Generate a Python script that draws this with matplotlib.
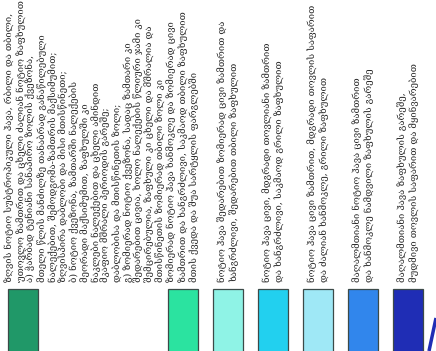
import matplotlib
matplotlib.use("Agg")
import matplotlib.pyplot as plt
from matplotlib.patches import Rectangle

# ---- data -------------------------------------------------------------
entry1_lines = [
    "ზღვის ნოტიო სუბტროპიკული ჰავა, რბილი და თბილი,",
    "უთოვლო ზამთრით და ცხელი ძალიან ნოტიო ზაფხულით",
    "ა) ჭარბად ტენიანი სანაპირო ზოლის ქვეზონა,",
    "მთელი წლის მანძილზე თანაბრად განაწილებული",
    "ნალექებით, შემოდგომა-ზამთრის მაქსიმუმით;",
    "ზღვისპირა დაბლობი და მისი მთისწინეთი;",
    "ბ) ნოტიო ქვეზონა, ზამთარში ნალექების",
    "მეორადი მაქსიმუმით, ზაფხულში კი",
    "ნაკლები ნალექებით და ცხელი ამინდით",
    "მკაფიო მშრალი პერიოდის გარეშე;",
    "დაბლობისა და მთისწინეთის ზოლი;",
    "გ) ზომიერად ნოტიო ქვეზონა, სადაც ზამთარი კი",
    "შედარებით ცივია, ხოლო ნალექების წლიური ჯამი კი",
    "შემცირებულია, ზაფხული კი ცხელი და მშრალია და",
    "მთისწინეთის ზომიერად თბილი ზოლი კი",
]
entry2_lines = [
    "ზომიერად ნოტიო ჰავა ხანმოკლე და ზომიერად ცივი",
    "ზამთრით და ხანგრძლივი, საკმაოდ თბილი ზაფხულით",
    "მთის ქვედა და შუა სარტყლის ფარგლებში",
]
entry3_lines = ["ნოტიო ჰავა შედარებით ზომიერად ცივი ზამთრით და",
                "ხანგრძლივი, შედარებით თბილი ზაფხულით"]
entry4_lines = ["ნოტიო ჰავა ცივი, მდგრადი თოვლიანი ზამთრით",
                "და ხანგრძლივი, საკმაოდ გრილი ზაფხულით"]
entry5_lines = ["ნოტიო ჰავა ცივი ზამთრით, მდგრადი თოვლის საფარით",
                "და ძალიან ხანმოკლე, გრილი ზაფხულით"]
entry6_lines = ["მაღალმთიანი ნოტიო ჰავა ცივი ზამთრით",
                "და ხანმოკლე ნამდვილი ზაფხულის გარეშე"]
entry7_lines = ["მაღალმთიანი ჰავა ზაფხულის გარეშე,",
                "მუდმივი თოვლის საფარით და მყინვარებით"]
entries = [entry1_lines, entry2_lines, entry3_lines, entry4_lines,
           entry5_lines, entry6_lines, entry7_lines]
colors = ["#209868", "#2be3a0", "#8ff3e6", "#22d0ef", "#9fe8f6", "#3186ec", "#1f2db5"]

map_edge_x = [436, 429]
map_edge_y = [318, 351]

# ---- layout -----------------------------------------------------------
W, H = 436, 351
fig = plt.figure(figsize=(W / 100, H / 100), dpi=100)
ax = fig.add_axes([0, 0, 1, 1])
ax.set_xlim(0, W)
ax.set_ylim(H, 0)
ax.axis("off")

FONT = dict(family=["DejaVu Serif", "DejaVu Sans"], fontsize=6.8, color="#2a2a2a")
line_gap = 10.7
text_base = 282
box_w = 30
box_top = 289
box_x0 = [8] + [168 + 45 * i for i in range(6)]

for i, (lines, col) in enumerate(zip(entries, colors)):
    bx = box_x0[i]
    ax.add_patch(Rectangle((bx, box_top), box_w, H - box_top + 5,
                           facecolor=col, edgecolor="#3c4a48", lw=0.9))
    n = len(lines)
    if i == 0:
        xs = [bx + 2 + k * line_gap for k in range(n)]
    else:
        c = bx + box_w / 2
        xs = [c + (k - (n - 1) / 2) * 11.5 for k in range(n)]
    for x, s in zip(xs, lines):
        ax.text(x, text_base, s, rotation=90, ha="center", va="bottom", **FONT)

ax.plot(map_edge_x, map_edge_y, color="#1f2db5", lw=2.5, solid_capstyle="butt")

fig.savefig("out.png", dpi=100)
